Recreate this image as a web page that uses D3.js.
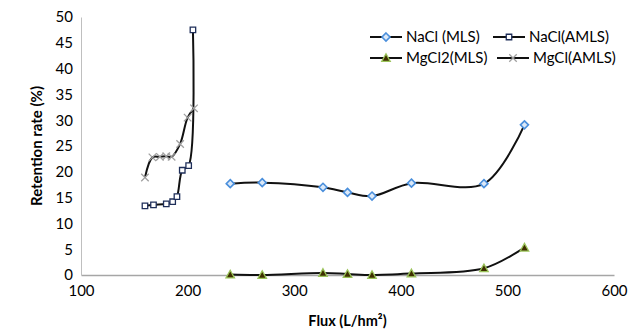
<!DOCTYPE html>
<html>
<head>
<meta charset="utf-8">
<script src="https://cdn.jsdelivr.net/npm/d3@7"></script>
<style>
  body { margin: 0; background: #fff; }
  text { font-family: Lato, "Open Sans", sans-serif; fill: #000; }
</style>
</head>
<body>
<div id="chart-area"></div>
<script>
// datos
var fluxMLS = [240, 270, 327, 350, 373, 410, 478, 516];
var naclMLS = [17.7, 17.9, 17.0, 16.0, 15.3, 17.8, 17.7, 29.1];
var mgcl2MLS = [0.1, 0.0, 0.4, 0.2, 0.0, 0.3, 1.3, 5.3];

var fluxNaclAMLS = [160, 168, 180, 186, 190, 195, 201, 205];
var naclAMLS = [13.4, 13.6, 13.8, 14.2, 15.2, 20.3, 21.2, 47.5];

var fluxMgclAMLS = [160, 167, 174, 180, 185, 193, 200, 206];
var mgclAMLS = [18.9, 22.8, 22.9, 23.0, 22.9, 25.4, 30.5, 32.3];

var xTicks = [100, 200, 300, 400, 500, 600];
var yTicks = [0, 5, 10, 15, 20, 25, 30, 35, 40, 45, 50];

var width = 633, height = 331;

var svg = d3.select("#chart-area")
    .append("svg")
    .attr("width", width)
    .attr("height", height);

var xScale = d3.scaleLinear().domain([100, 600]).range([81, 614]);
var yScale = d3.scaleLinear().domain([0, 50]).range([275, 17]);

// simbolos propios (rombo y aspa como en Excel)
var diamond = {
    draw: function(ctx, size) {
        var r = Math.sqrt(size) / 2;
        ctx.moveTo(0, -r); ctx.lineTo(r, 0); ctx.lineTo(0, r); ctx.lineTo(-r, 0); ctx.closePath();
    }
};
var cross = {
    draw: function(ctx, size) {
        var r = Math.sqrt(size) / 2;
        ctx.moveTo(-r, -r); ctx.lineTo(r, r);
        ctx.moveTo(r, -r); ctx.lineTo(-r, r);
    }
};
var square = {
    draw: function(ctx, size) {
        var r = Math.sqrt(size) / 2;
        ctx.rect(-r, -r, 2 * r, 2 * r);
    }
};
var triangle = {
    draw: function(ctx, size) {
        var r = Math.sqrt(size) / 2;
        ctx.moveTo(0, -r); ctx.lineTo(r, r * 0.8); ctx.lineTo(-r, r * 0.8); ctx.closePath();
    }
};

var series = [
    { name: "NaCl (MLS)", x: fluxMLS, y: naclMLS, sym: diamond, size: 64, fill: "#dce9f8", stroke: "#4a8fdc", sw: 1.6 },
    { name: "NaCl(AMLS)", x: fluxNaclAMLS, y: naclAMLS, sym: square, size: 30, fill: "#ffffff", stroke: "#1f2f5a", sw: 1.3 },
    { name: "MgCl2(MLS)", x: fluxMLS, y: mgcl2MLS, sym: triangle, size: 72, fill: "#3e2f00", stroke: "#9bc45a", sw: 1.3 },
    { name: "MgCl(AMLS)", x: fluxMgclAMLS, y: mgclAMLS, sym: cross, size: 56, fill: "none", stroke: "#a0a0a0", sw: 1.3 }
];

// ejes
var xAxis = d3.axisBottom(xScale).tickValues(xTicks).tickSize(0).tickPadding(10);
var yAxis = d3.axisLeft(yScale).tickValues(yTicks).tickSize(0).tickPadding(8);

var gx = svg.append("g")
    .attr("transform", "translate(0," + yScale(0) + ")")
    .call(xAxis);
gx.selectAll("text").style("font-size", "15px");
gx.select(".domain").attr("stroke", "#a6a6a6").attr("stroke-width", 1.5);

var gy = svg.append("g")
    .attr("transform", "translate(" + xScale(100) + ",0)")
    .call(yAxis);
gy.selectAll("text").style("font-size", "15px");
gy.select(".domain").attr("stroke", "#bfbfbf").attr("stroke-width", 1);

svg.append("text")
    .attr("x", (xScale(100) + xScale(600)) / 2)
    .attr("y", 326)
    .attr("text-anchor", "middle")
    .style("font-size", "14.5px")
    .style("font-weight", "bold")
    .text("Flux (L/hm²)");

svg.append("text")
    .attr("transform", "rotate(-90)")
    .attr("x", -(yScale(0) + yScale(50)) / 2)
    .attr("y", 42)
    .attr("text-anchor", "middle")
    .style("font-size", "15px")
    .style("font-weight", "bold")
    .text("Retention rate (%)");

// lineas suavizadas y marcadores
var line = d3.line()
    .x(function(d) { return xScale(d[0]); })
    .y(function(d) { return yScale(d[1]); })
    .curve(d3.curveCatmullRom.alpha(0.5));

series.forEach(function(s) {
    var pts = s.x.map(function(v, i) { return [v, s.y[i]]; });
    svg.append("path")
        .datum(pts)
        .attr("fill", "none")
        .attr("stroke", "#111")
        .attr("stroke-width", 2)
        .attr("d", line);
    svg.selectAll(null)
        .data(pts)
        .enter().append("path")
        .attr("transform", function(d) { return "translate(" + xScale(d[0]) + "," + yScale(d[1]) + ")"; })
        .attr("d", d3.symbol().type(s.sym).size(s.size))
        .attr("fill", s.fill)
        .attr("stroke", s.stroke)
        .attr("stroke-width", s.sw);
});

// leyenda
var legendPos = [[370, 37], [493, 37], [370, 58], [497, 58]];
series.forEach(function(s, i) {
    var g = svg.append("g")
        .attr("transform", "translate(" + legendPos[i][0] + "," + legendPos[i][1] + ")");
    g.append("line")
        .attr("x1", 0).attr("x2", 32)
        .attr("stroke", "#111").attr("stroke-width", 2);
    g.append("path")
        .attr("transform", "translate(16,0)")
        .attr("d", d3.symbol().type(s.sym).size(s.size))
        .attr("fill", s.fill)
        .attr("stroke", s.stroke)
        .attr("stroke-width", s.sw);
    g.append("text")
        .attr("x", 36)
        .attr("dy", "0.35em")
        .style("font-size", "15px")
        .text(s.name);
});
</script>
</body>
</html>
